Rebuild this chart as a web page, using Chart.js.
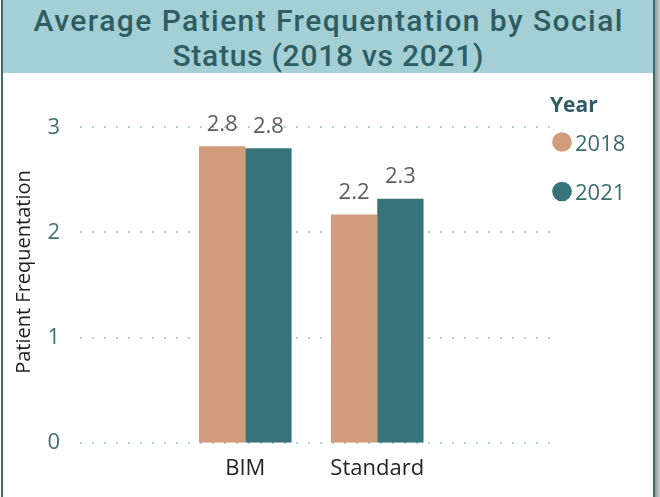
<!DOCTYPE html>
<html>
<head>
<meta charset="utf-8">
<script src="https://cdn.jsdelivr.net/npm/chart.js@4.4.1/dist/chart.umd.min.js"></script>
<style>
  html, body { margin:0; padding:0; width:660px; height:497px; overflow:hidden; background:#ffffff; }
  #shadow { position:absolute; left:655px; top:0; width:5px; height:497px;
            background:linear-gradient(to right, #8c9c9e, #c9d0d1); }
  #frame { position:absolute; left:1px; top:0; width:654px; height:497px; box-sizing:border-box;
           border-left:2px solid #3e6a70; border-right:2px solid #3e6a70; }
  #band { position:absolute; left:3px; top:0; width:650px; height:73px; background:#a3cfd5; }
  #title { position:absolute; left:3px; top:3px; width:650px; text-align:center;
           font-family:Roboto, "DejaVu Sans", sans-serif; font-weight:500; font-size:30px; line-height:35px;
           color:#2e5e63; white-space:nowrap; }
  #title div { display:block; }
  #chart { position:absolute; left:0; top:0; z-index:2; }
</style>
</head>
<body>
<div id="shadow"></div>
<div id="frame"></div>
<div id="band"></div>
<div id="title"><div id="t1"></div><div id="t2"></div></div>
<canvas id="chart" width="660" height="497"></canvas>
<script>
// ---- data ----
const titleLines = ['Average Patient Frequentation by Social', 'Status (2018 vs 2021)'];
const categories = ['BIM', 'Standard'];
const seriesNames = ['2018', '2021'];
const values2018 = [2.82, 2.17];
const values2021 = [2.80, 2.32];
const yTickValues = [0, 1, 2, 3];
const legendTitle = 'Year';
const yAxisTitle = 'Patient Frequentation';
const seriesColors = ['#D19C7C', '#37737A'];

// ---- title (fit widths like the reference) ----
const targetWidths = [590, 312];
const mctx = document.createElement('canvas').getContext('2d');
mctx.font = '500 30px Roboto';
['t1', 't2'].forEach((id, i) => {
  const el = document.getElementById(id);
  el.textContent = titleLines[i];
  const w = mctx.measureText(titleLines[i]).width;
  const ls = (targetWidths[i] - w) / titleLines[i].length;
  el.style.letterSpacing = ls.toFixed(2) + 'px';
  el.style.textIndent = ls.toFixed(2) + 'px';
});

Chart.defaults.font.family = '"Open Sans", "Noto Sans", sans-serif';

const dotGrid = {
  id: 'dotGrid',
  beforeDatasetsDraw(chart) {
    const y = chart.scales.y, ctx = chart.ctx;
    ctx.save();
    ctx.strokeStyle = '#a9d0d6';
    ctx.lineWidth = 2;
    ctx.setLineDash([2, 10]);
    y.ticks.forEach(t => {
      const py = Math.round(y.getPixelForValue(t.value));
      ctx.beginPath();
      ctx.moveTo(80, py);
      ctx.lineTo(552, py);
      ctx.stroke();
    });
    ctx.restore();
  }
};

const valueLabels = {
  id: 'valueLabels',
  afterDatasetsDraw(chart) {
    const ctx = chart.ctx;
    ctx.save();
    ctx.font = '22px "Open Sans"';
    ctx.fillStyle = '#605e5c';
    ctx.textAlign = 'center';
    ctx.textBaseline = 'alphabetic';
    chart.data.datasets.forEach((ds, di) => {
      chart.getDatasetMeta(di).data.forEach((bar, i) => {
        ctx.fillText(ds.data[i].toFixed(1), bar.x, bar.y - 15.5);
      });
    });
    ctx.restore();
  }
};

const sideLegend = {
  id: 'sideLegend',
  afterDraw(chart) {
    const ctx = chart.ctx;
    ctx.save();
    ctx.textAlign = 'left';
    ctx.textBaseline = 'alphabetic';
    ctx.font = 'bold 21px "Open Sans"';
    ctx.fillStyle = '#2e5e63';
    ctx.fillText(legendTitle, 550, 112);
    chart.data.datasets.forEach((ds, i) => {
      const cy = 142 + i * 49.5;
      ctx.beginPath();
      ctx.arc(562, cy, 9.8, 0, Math.PI * 2);
      ctx.fillStyle = ds.backgroundColor;
      ctx.fill();
      ctx.font = '22px "Open Sans"';
      ctx.fillStyle = '#3a6c71';
      ctx.fillText(ds.label, 575, cy + 8.5);
    });
    ctx.restore();
  }
};

new Chart(document.getElementById('chart'), {
  type: 'bar',
  data: {
    labels: categories,
    datasets: [
      { label: seriesNames[0], data: values2018, backgroundColor: seriesColors[0] },
      { label: seriesNames[1], data: values2021, backgroundColor: seriesColors[1] }
    ]
  },
  options: {
    responsive: false,
    animation: false,
    devicePixelRatio: 1,
    layout: { padding: { left: 0, top: 127.3, right: 216.8, bottom: 0 } },
    datasets: { bar: { categoryPercentage: 0.702, barPercentage: 1.0 } },
    plugins: { legend: { display: false }, tooltip: { enabled: false }, title: { display: false } },
    scales: {
      x: {
        grid: { display: false },
        border: { display: false },
        ticks: { color: '#252423', font: { size: 22 }, padding: 5 },
        afterFit(s) { s.height = 54.3; s.paddingLeft = 0; s.paddingRight = 0; }
      },
      y: {
        min: 0, max: 3,
        afterBuildTicks(s) { s.ticks = yTickValues.map(v => ({ value: v })); },
        grid: { display: false, drawTicks: false },
        border: { display: false },
        ticks: { color: '#3e7076', font: { size: 22 }, padding: 119.3 },
        title: { display: true, text: '     ' + yAxisTitle, color: '#1f1f1f',
                 font: { size: 20 }, padding: { top: 12, bottom: 0 } },
        afterFit(s) { s.width = 179.3; s.paddingTop = 0; s.paddingBottom = 0; }
      }
    }
  },
  plugins: [dotGrid, valueLabels, sideLegend]
});
</script>
</body>
</html>
